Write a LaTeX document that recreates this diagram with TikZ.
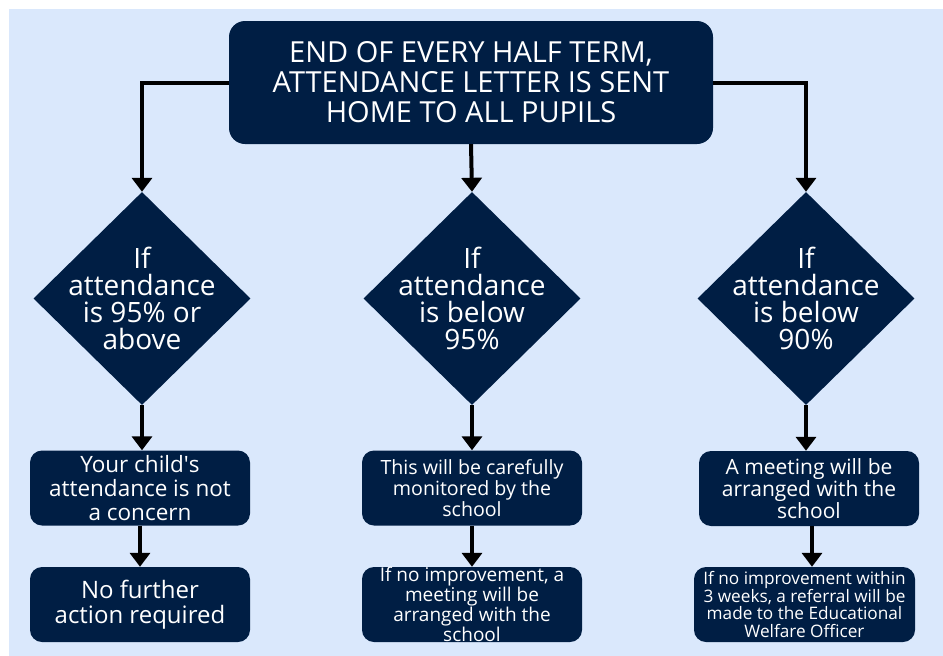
\documentclass[tikz,border=0pt]{standalone}
\usepackage{fontspec}
\setmainfont{Open Sans}
\usetikzlibrary{arrows.meta,shapes.geometric}
\definecolor{navy}{RGB}{0,30,68}
\definecolor{paleblue}{RGB}{218,232,252}

\tikzset{
  box/.style={fill=navy, text=white, rounded corners=12pt, align=center,
    inner sep=0pt, minimum width=220pt, minimum height=75pt},
  decision/.style={diamond, fill=navy, inner sep=0pt,
    minimum width=217pt, minimum height=213pt},
  decisiontext/.style={text=white, align=center, inner sep=0pt,
    font=\fontsize{28}{27}\selectfont},
  flow/.style={line width=4pt, -{Triangle[width=20pt,length=14pt]}},
}

\begin{document}
\begin{tikzpicture}[x=1pt, y=-1pt]

% page and panel
\useasboundingbox (0,0) rectangle (943,656);
\fill [white] (0,0) rectangle (943,656);
\fill [paleblue] (9,9) rectangle (943,656);

% top box
\node [box, minimum width=484pt, minimum height=123pt, rounded corners=16pt,
  font=\fontsize{29}{30}\selectfont] (top) at (471,82.5)
  {END OF EVERY HALF TERM,\\ATTENDANCE LETTER IS SENT\\HOME TO ALL PUPILS};

% decisions
\node [decision] (d1) at (142,298.5) {};
\node [decisiontext] (d1t) at (d1) {If\\attendance\\is 95\% or\\above};
\node [decision] (d2) at (472,298.5) {};
\node [decisiontext] (d2t) at (d2) {If\\attendance\\is below\\95\%};
\node [decision] (d3) at (806,298.5) {};
\node [decisiontext] (d3t) at (d3) {If\\attendance\\is below\\90\%};

% left column
\node [box, font=\fontsize{22.5}{24}\selectfont] (l1) at (140,488)
  {Your child\textquotesingle s\\attendance is not\\a concern};
\node [box, font=\fontsize{24}{25}\selectfont] (l2) at (140,604.5)
  {No further\\action required};

% middle column
\node [box, font=\fontsize{19.6}{21}\selectfont] (m1) at (472,488)
  {This will be carefully\\monitored by the\\school};
\node [box, font=\fontsize{19}{18.5}\selectfont] (m2) at (472,604.5)
  {If no improvement, a\\meeting will be\\arranged with the\\school};

% right column
\node [box, font=\fontsize{21}{22}\selectfont] (r1) at (809,488.5)
  {A meeting will be\\arranged with the\\school};
\node [box, minimum width=221pt, font=\fontsize{17.2}{17.5}\selectfont] (r2) at (804.5,604.5)
  {If no improvement within\\3 weeks, a referral will be\\made to the Educational\\Welfare Officer};

% connectors
\draw [flow] (top.west) -| (d1.north);
\draw [flow] (top.south) -- (d2.north);
\draw [flow] (top.east) -| (d3.north);

\draw [flow] (d1.south) -- (d1.south |- l1.north);
\draw [flow] (l1.south) -- (l2.north);
\draw [flow] (d2.south) -- (m1.north);
\draw [flow] (m1.south) -- (m2.north);
\draw [flow] (d3.south) -- (d3.south |- r1.north);
\draw [flow] ([xshift=3pt]r1.south) -- ([xshift=3pt]r1.south |- r2.north);

\end{tikzpicture}
\end{document}
